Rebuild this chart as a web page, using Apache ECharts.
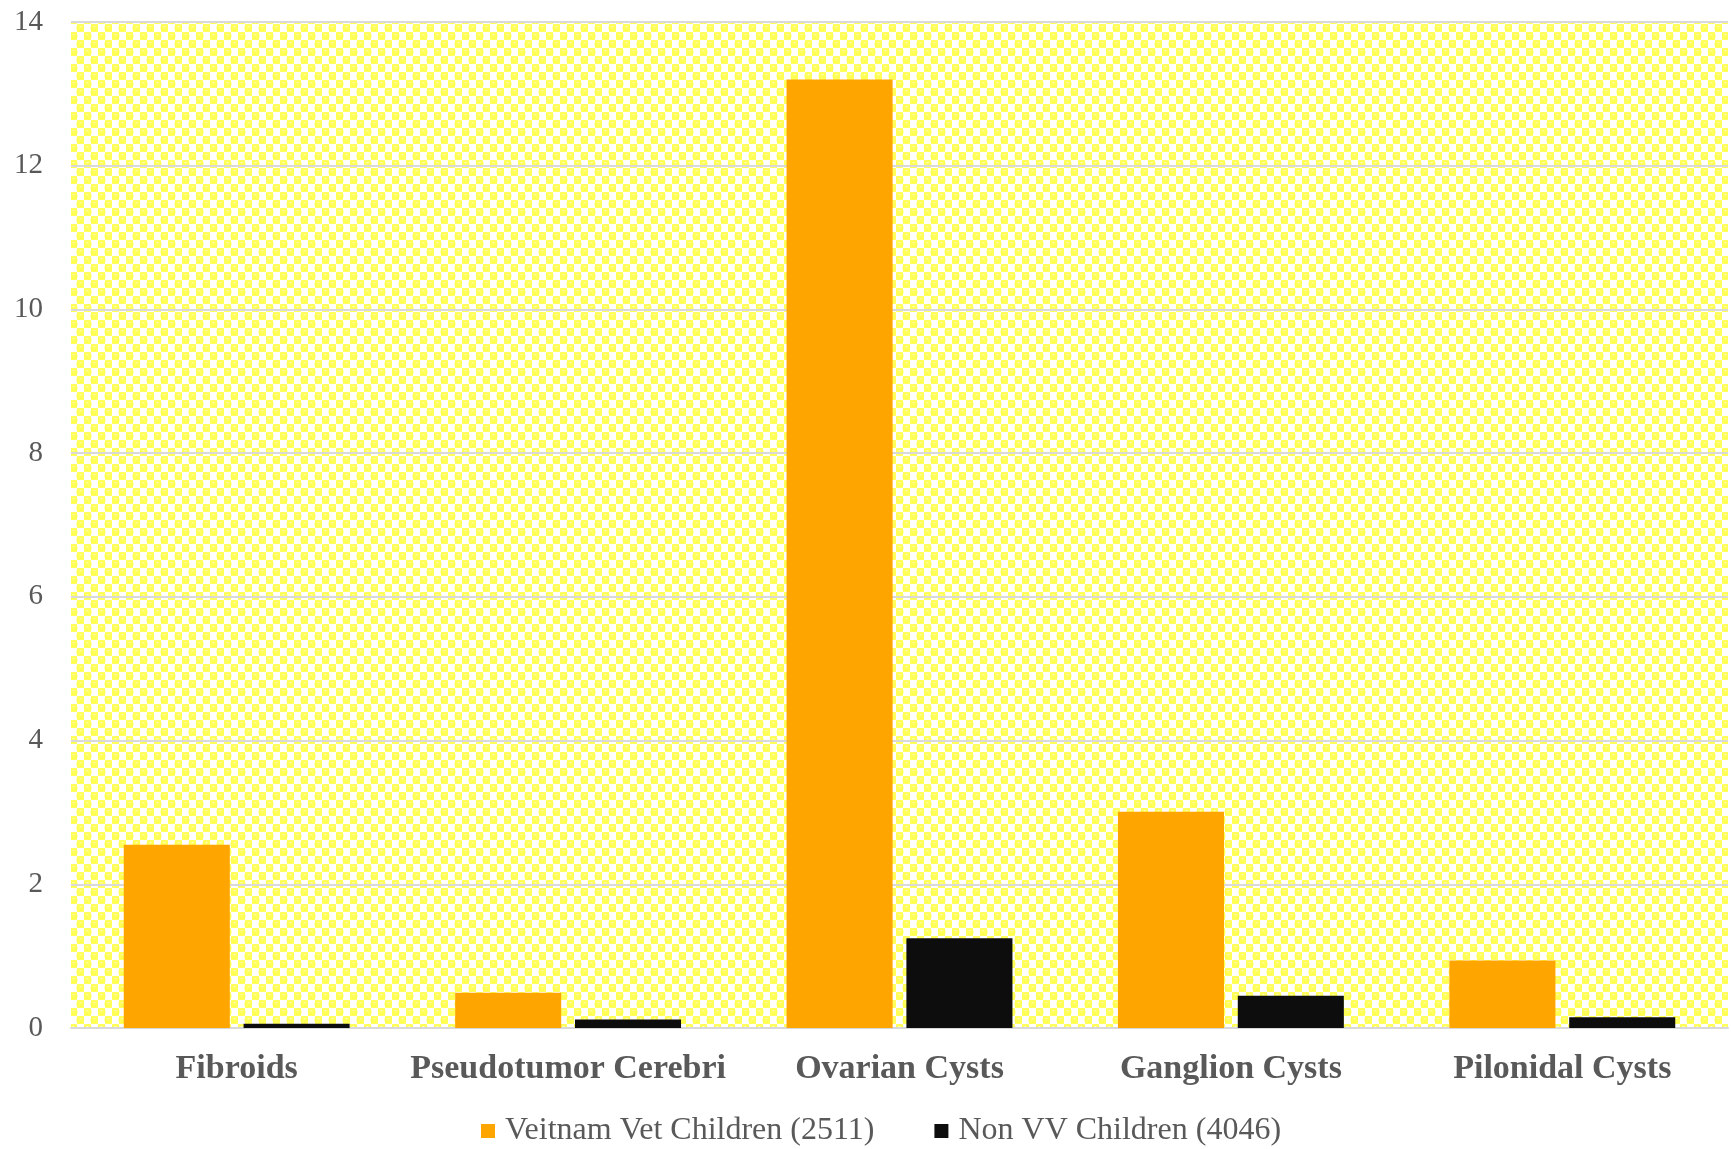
<!DOCTYPE html>
<html><head><meta charset="utf-8">
<script src="https://cdn.jsdelivr.net/npm/echarts@6/dist/echarts.min.js"></script>
<style>html,body{margin:0;padding:0;background:#fff}#c{width:1731px;height:1149px}</style>
</head><body><div id="c"></div>
<script>
const categories = ['Fibroids', 'Pseudotumor Cerebri', 'Ovarian Cysts', 'Ganglion Cysts', 'Pilonidal Cysts'];
const seriesNames = ['Veitnam Vet Children (2511)', 'Non VV Children (4046)'];
const vetValues = [2.55, 0.49, 13.2, 3.01, 0.94];
const nonVetValues = [0.06, 0.12, 1.25, 0.45, 0.15];

function makePattern() {
  const w = 14, h = 16;
  const cv = document.createElement('canvas');
  cv.width = w; cv.height = h;
  const g = cv.getContext('2d');
  g.fillStyle = '#ffffff'; g.fillRect(0, 0, w, h);
  g.fillStyle = '#ffff70';
  g.fillRect(0, 0, 7, 8); g.fillRect(7, 8, 7, 8);
  g.fillStyle = '#ffff55';
  [[3.5, 4], [10.5, 12]].forEach(([x, y]) => {
    g.beginPath(); g.arc(x, y, 4, 0, Math.PI * 2); g.fill();
  });
  g.fillStyle = '#ffffc8';
  [[3.5, 2.5], [10.5, 10.5]].forEach(([x, y]) => {
    g.fillRect(x - 1, y - 0.5, 2, 1.2);
  });
  return cv;
}

const chart = echarts.init(document.getElementById('c'), null, {renderer: 'canvas'});
chart.setOption({
  animation: false,
  backgroundColor: '#ffffff',
  grid: {
    left: 71, right: 3, top: 22, bottom: 121,
    show: true,
    backgroundColor: {image: makePattern(), repeat: 'repeat'},
    borderWidth: 0
  },
  legend: {
    bottom: -3,
    left: 476,
    itemWidth: 14, itemHeight: 14,
    itemGap: 60,
    icon: 'rect',
    textStyle: {fontFamily: 'Liberation Serif', fontSize: 32, color: '#595959', padding: [0, 0, 0, 5]},
    data: seriesNames
  },
  xAxis: {
    type: 'category',
    data: categories,
    axisLine: {show: true, lineStyle: {color: '#d9d9d9', width: 2}},
    axisTick: {show: false},
    axisLabel: {
      interval: 0,
      margin: 24,
      fontFamily: 'Liberation Serif', fontWeight: 'bold', fontSize: 34, color: '#595959'
    }
  },
  yAxis: {
    type: 'value',
    min: 0, max: 14, interval: 2,
    axisLine: {show: false},
    axisTick: {show: false},
    splitLine: {lineStyle: {color: '#d9d9d9', width: 2}},
    axisLabel: {
      margin: 28,
      fontFamily: 'Liberation Serif', fontSize: 29, color: '#595959'
    }
  },
  series: [
    {
      name: seriesNames[0], type: 'bar', data: vetValues,
      barWidth: '32%', barGap: '13%',
      itemStyle: {color: '#ffa500'}
    },
    {
      name: seriesNames[1], type: 'bar', data: nonVetValues,
      barWidth: '32%', barGap: '13%',
      itemStyle: {color: '#0d0d0d'}
    }
  ]
});
</script>
</body></html>
